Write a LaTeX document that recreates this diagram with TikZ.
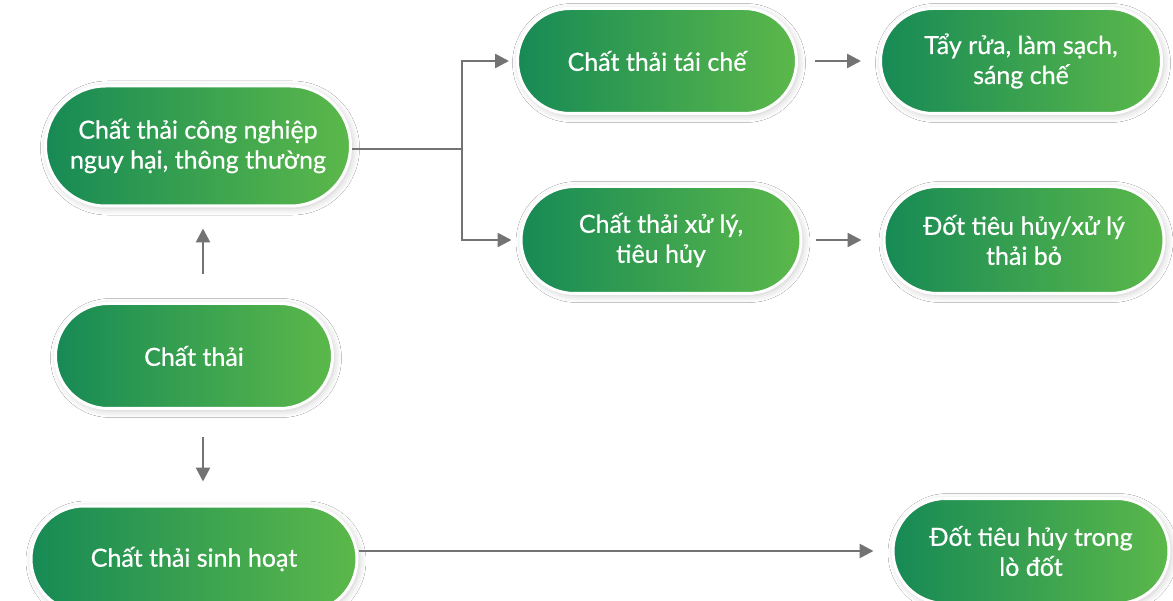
\documentclass[tikz,border=0pt]{standalone}
\usepackage{fontspec}
\setmainfont{Lato}[FakeBold=0.6]
\usetikzlibrary{shapes.misc,arrows.meta,shadows.blur}
\definecolor{gleft}{HTML}{178A55}
\definecolor{gright}{HTML}{5BB84A}
\definecolor{linegray}{HTML}{737373}
\tikzset{
  pill/.style={rounded rectangle, draw=white, line width=3pt,
    left color=gleft, right color=gright, text=white, align=center,
    font=\fontsize{25}{30}\selectfont, inner sep=0pt,
    blur shadow={shadow xshift=2pt, shadow yshift=-2pt,
      shadow blur radius=7pt, shadow opacity=22}},
  conn/.style={draw=linegray, line width=2.6pt},
  arr/.style={conn, -{Triangle[length=14pt,width=14pt]}}
}
\begin{document}
\begin{tikzpicture}[x=1pt,y=-1pt]
\useasboundingbox[fill=white] (0,0) rectangle (1173,601);

\node[pill, minimum width=305pt, minimum height=120pt] (ind) at (198,146)
  {Chất thải công nghiệp\\nguy hại, thông thường};
\node[pill, minimum width=279pt, minimum height=105pt] (rec) at (657,61)
  {Chất thải tái chế};
\node[pill, minimum width=281pt, minimum height=105pt] (clean) at (1021,61)
  {Tẩy rửa, làm sạch,\\sáng chế};
\node[pill, minimum width=280pt, minimum height=107pt] (treat) at (661,240)
  {Chất thải xử lý,\\tiêu hủy};
\node[pill, minimum width=280pt, minimum height=107pt] (burn) at (1024,240)
  {Đốt tiêu hủy/xử lý\\thải bỏ};
\node[pill, minimum width=277pt, minimum height=105pt] (waste) at (194,356)
  {Chất thải};
\node[pill, minimum width=326pt, minimum height=106pt] (dom) at (194,559)
  {Chất thải sinh hoạt};
\node[pill, minimum width=276pt, minimum height=105pt] (furn) at (1031,551)
  {Đốt tiêu hủy trong\\lò đốt};

% branch point and vertical arrow column
\coordinate (br) at (462,149);
\coordinate (vx) at (203,0);

\draw[conn] (ind.east |- br) -- (br);
\draw[arr, shorten >=7pt] (br) |- (rec.west);
\draw[arr, shorten >=8pt] (br) |- (treat.west);

\draw[arr, shorten <=17pt, shorten >=18pt] (rec.east) -- (clean.west);
\draw[arr, shorten <=13pt, shorten >=21pt] (treat.east) -- (burn.west);

\draw[arr, shorten <=28pt, shorten >=21pt] (waste.north -| vx) -- (ind.south -| vx);
\draw[arr, shorten <=27pt, shorten >=23pt] (waste.south -| vx) -- (dom.north -| vx);

\draw[arr, shorten >=18pt] (dom.east |- furn.west) -- (furn.west);
\end{tikzpicture}
\end{document}
